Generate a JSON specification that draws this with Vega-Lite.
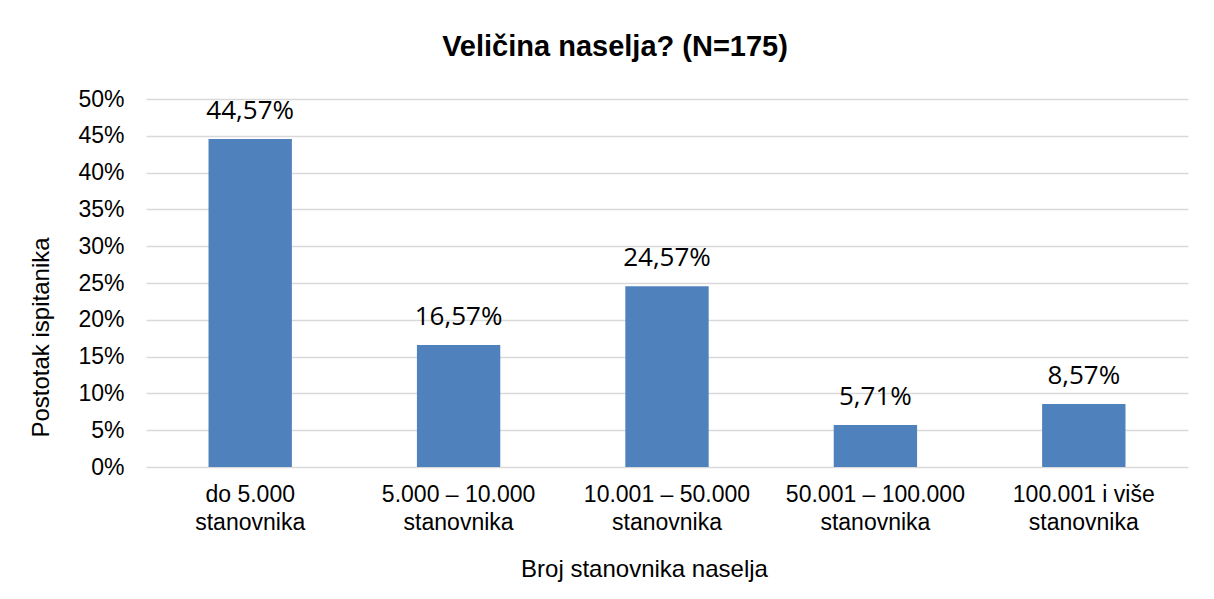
{
  "$schema": "https://vega.github.io/schema/vega-lite/v6.json",
  "width": 1042,
  "height": 368,
  "autosize": "none",
  "padding": {"left": 146, "top": 99, "right": 26, "bottom": 132},
  "background": "white",
  "config": {
    "locale": {"number": {"decimal": ",", "thousands": ".", "grouping": [3], "currency": ["", " €"]}},
    "view": {"stroke": null},
    "font": "Liberation Sans"
  },
  "title": {
    "text": "Veličina naselja? (N=175)",
    "fontSize": 29,
    "fontWeight": "bold",
    "font": "Liberation Sans",
    "color": "#000000",
    "anchor": "middle",
    "dx": -52,
    "offset": 26
  },
  "data": {
    "values": [
      {"kategorija": "do 5.000|stanovnika", "udio": 0.4457},
      {"kategorija": "5.000 – 10.000|stanovnika", "udio": 0.1657},
      {"kategorija": "10.001 – 50.000|stanovnika", "udio": 0.2457},
      {"kategorija": "50.001 – 100.000|stanovnika", "udio": 0.0571},
      {"kategorija": "100.001 i više|stanovnika", "udio": 0.0857}
    ]
  },
  "encoding": {
    "x": {
      "field": "kategorija",
      "type": "nominal",
      "sort": null,
      "scale": {"paddingInner": 0.6, "paddingOuter": 0.3},
      "axis": {
        "title": "Broj stanovnika naselja",
        "labelExpr": "split(datum.label, '|')",
        "labelAngle": 0,
        "labelFontSize": 23,
        "labelColor": "#000000",
        "labelLineHeight": 28,
        "labelPadding": 16,
        "ticks": false,
        "domain": false,
        "titleFontSize": 24,
        "titleFontWeight": "normal",
        "titleColor": "#000000",
        "titlePadding": 23,
        "titleX": 498
      }
    },
    "y": {
      "field": "udio",
      "type": "quantitative",
      "scale": {"domain": [0, 0.5]},
      "axis": {
        "title": "Postotak ispitanika",
        "values": [0, 0.05, 0.1, 0.15, 0.2, 0.25, 0.3, 0.35, 0.4, 0.45, 0.5],
        "format": ".0%",
        "labelFontSize": 23,
        "labelColor": "#000000",
        "labelPadding": 22,
        "ticks": false,
        "domain": false,
        "gridColor": "#D9D9D9",
        "gridWidth": 1.5,
        "titleFontSize": 24,
        "titleFontWeight": "normal",
        "titleColor": "#000000",
        "titlePadding": 24,
        "titleY": 238
      }
    }
  },
  "layer": [
    {"mark": {"type": "bar", "color": "#4F81BD"}},
    {
      "mark": {"type": "text", "baseline": "middle", "dy": -28, "fontSize": 26, "font": "Open Sans", "color": "#000000"},
      "encoding": {"text": {"field": "udio", "type": "quantitative", "format": ".2%"}}
    }
  ]
}
